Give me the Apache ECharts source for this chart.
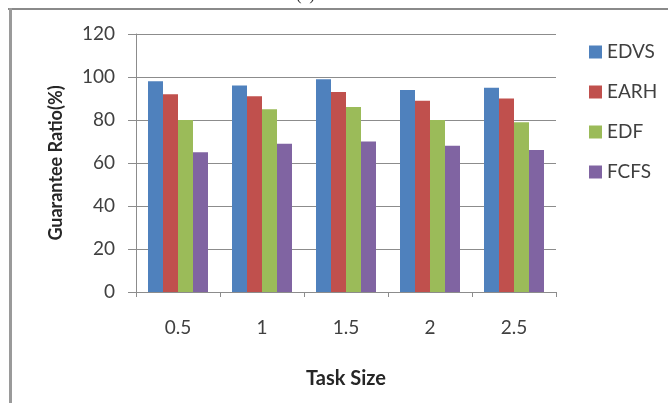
<!DOCTYPE html>
<html>
<head>
<meta charset="utf-8">
<script src="https://cdn.jsdelivr.net/npm/echarts@6/dist/echarts.min.js"></script>
<style>html,body{margin:0;padding:0;background:#fff}#c{width:668px;height:403px}</style>
</head>
<body>
<div id="c"></div>
<script>
var categories = ['0.5', '1', '1.5', '2', '2.5'];
var seriesNames = ['EDVS', 'EARH', 'EDF', 'FCFS'];
var edvs = [98, 96, 99, 94, 95];
var earh = [92, 91, 93, 89, 90];
var edf  = [80, 85, 86, 80, 79];
var fcfs = [65, 69, 70, 68, 66];
var yTicks = [0, 20, 40, 60, 80, 100, 120];

var colors = ['#4F81BD', '#C0504D', '#9BBB59', '#8064A2'];
var values = [edvs, earh, edf, fcfs];
var chart = echarts.init(document.getElementById('c'), null, {renderer: 'canvas'});
var font = 'Lato';
chart.setOption({
  animation: false,
  backgroundColor: '#ffffff',
  textStyle: {fontFamily: font},
  grid: {left: 136, right: 112, top: 34, bottom: 111},
  legend: {
    orient: 'vertical',
    left: 584, top: 37,
    itemWidth: 13, itemHeight: 13, itemGap: 20,
    icon: 'rect',
    data: seriesNames,
    textStyle: {fontFamily: font, fontSize: 19, color: '#404040', lineHeight: 20}
  },
  xAxis: {
    type: 'category',
    data: categories,
    name: 'Task Size',
    nameLocation: 'middle',
    nameGap: 77,
    nameTextStyle: {fontFamily: font, fontSize: 20, fontWeight: 'bold', color: '#262626'},
    axisLine: {lineStyle: {color: '#8c8c8c', width: 1}},
    axisTick: {show: true, length: 5, lineStyle: {color: '#8c8c8c'}},
    axisLabel: {fontFamily: font, fontSize: 19, color: '#404040', margin: 26}
  },
  yAxis: {
    type: 'value',
    min: yTicks[0], max: yTicks[yTicks.length - 1], interval: 20,
    name: 'Guarantee Ratio(%)',
    nameLocation: 'middle',
    nameGap: 71,
    nameRotate: 90,
    nameTextStyle: {fontFamily: font, fontSize: 18, fontWeight: 'bold', color: '#262626'},
    axisLine: {show: true, lineStyle: {color: '#8c8c8c', width: 1}},
    axisTick: {show: true, length: 8, lineStyle: {color: '#8c8c8c'}},
    axisLabel: {fontFamily: font, fontSize: 19, color: '#404040', margin: 21},
    splitLine: {lineStyle: {color: '#8c8c8c', width: 1}}
  },
  series: seriesNames.map(function (n, i) {
    return {
      name: n, type: 'bar', data: values[i],
      barWidth: 15, barGap: '0%',
      itemStyle: {color: colors[i]}
    };
  }),
  graphic: [
    {type: 'rect', shape: {x: 8, y: 8, width: 660, height: 2}, style: {fill: '#8a8a8a'}, silent: true},
    {type: 'rect', shape: {x: 9, y: 8, width: 3, height: 395}, style: {fill: '#9a9a9a'}, silent: true},
    {type: 'text', left: 296, top: -13, style: {text: '(a)', fontSize: 17, fontFamily: 'Liberation Serif', fill: '#333'}, silent: true}
  ]
});
</script>
</body>
</html>
